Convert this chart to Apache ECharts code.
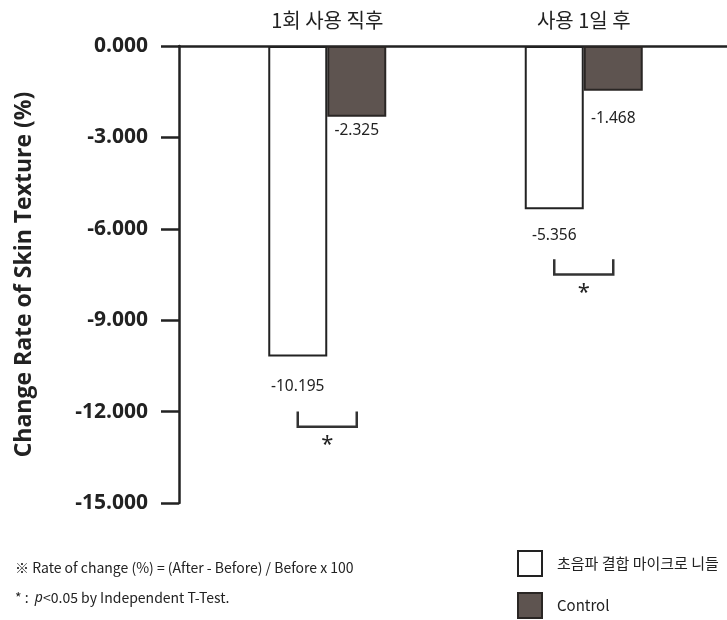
<!DOCTYPE html>
<html>
<head>
<meta charset="utf-8">
<script src="https://cdn.jsdelivr.net/npm/echarts@6/dist/echarts.min.js"></script>
<style>
html,body{margin:0;padding:0;background:#fff;}
#main{width:727px;height:620px;}
</style>
</head>
<body>
<div id="main"></div>
<script>
const categories = ['1회 사용 직후', '사용 1일 후'];
const seriesNames = ['초음파 결합 마이크로 니들', 'Control'];
const microneedleValues = [-10.195, -5.356];
const controlValues = [-2.325, -1.468];
const microneedleLabelGap = [22, 18];
const controlLabelGap = [6, 20];
// significance brackets: [category index, top value, bottom value]
const sigBrackets = [[0, -12.0, -12.5], [1, -7.0, -7.5]];
const footnote1 = '※ Rate of change (%) = (After - Before) / Before x 100';
const footnote2a = '* :  ';
const footnote2b = 'p';
const footnote2c = '<0.05 by Independent T-Test.';

const chart = echarts.init(document.getElementById('main'));
const BAR_W = 59;
const lineColor = '#222';

function mkData(vals, gaps) {
  return vals.map((v, i) => ({
    value: v,
    label: { distance: gaps[i] }
  }));
}

chart.setOption({
  animation: false,
  backgroundColor: '#fff',
  grid: [
    { left: 199, right: 15, top: 46, height: 457, containLabel: false, outerBoundsMode: 'none' },
    { left: 179, right: 0, top: 46, height: 457, containLabel: false, outerBoundsMode: 'none' }
  ],
  xAxis: [
    {
      type: 'category', gridIndex: 0, position: 'top', data: categories,
      axisLine: { show: false }, axisTick: { show: false },
      axisLabel: { margin: 16, fontSize: 20, color: '#222', fontFamily: 'Noto Sans CJK KR' }
    },
    {
      type: 'value', gridIndex: 1, position: 'top', min: 0, max: 1,
      axisLine: { show: true, lineStyle: { color: lineColor, width: 2.5 } },
      axisTick: { show: false }, axisLabel: { show: false }, splitLine: { show: false }
    }
  ],
  yAxis: [
    {
      type: 'value', gridIndex: 0, min: -15, max: 0, interval: 3, offset: 20,
      name: 'Change Rate of Skin Texture (%)', nameLocation: 'middle', nameGap: 143,
      nameTextStyle: { fontSize: 23, fontWeight: 'bold', color: '#222', fontFamily: 'Open Sans' },
      axisLine: { show: true, lineStyle: { color: lineColor, width: 2.5 } },
      axisTick: { show: true, length: 18, lineStyle: { color: lineColor, width: 2.5 } },
      axisLabel: {
        margin: 31, fontSize: 21, fontWeight: 'bold', color: '#222', fontFamily: 'Open Sans',
        formatter: v => v.toFixed(3)
      },
      splitLine: { show: false }
    },
    {
      type: 'value', gridIndex: 1, min: -15, max: 0, show: false
    }
  ],
  legend: {
    orient: 'vertical', left: 517, top: 550, height: 70, padding: 0,
    itemWidth: 24, itemHeight: 25, itemGap: 15,
    icon: 'rect', data: seriesNames,
    textStyle: { fontSize: 15, color: '#222', fontFamily: 'Noto Sans CJK KR', padding: [0, 0, 0, 10] }
  },
  series: [
    {
      name: seriesNames[0], type: 'bar', xAxisIndex: 0, yAxisIndex: 0,
      barWidth: BAR_W, barGap: '0%',
      itemStyle: { color: '#ffffff', borderColor: '#222', borderWidth: 2 },
      label: { show: true, position: 'bottom', fontSize: 15.5, color: '#222', fontFamily: 'Noto Sans',
        formatter: p => p.value.toFixed(3) },
      data: mkData(microneedleValues, microneedleLabelGap)
    },
    {
      name: seriesNames[1], type: 'bar', xAxisIndex: 0, yAxisIndex: 0,
      barWidth: BAR_W, barGap: '0%',
      itemStyle: { color: '#5e5450', borderColor: '#2a2624', borderWidth: 2 },
      label: { show: true, position: 'bottom', fontSize: 15.5, color: '#222', fontFamily: 'Noto Sans',
        formatter: p => p.value.toFixed(3) },
      data: mkData(controlValues, controlLabelGap)
    },
    {
      type: 'custom', xAxisIndex: 0, yAxisIndex: 0, silent: true,
      data: sigBrackets,
      renderItem: function (params, api) {
        const idx = api.value(0);
        const top = api.coord([idx, api.value(1)]);
        const bot = api.coord([idx, api.value(2)]);
        const cx = top[0];
        const xl = cx - BAR_W / 2;
        const xr = cx + BAR_W / 2;
        return {
          type: 'group',
          children: [
            {
              type: 'polyline',
              shape: { points: [[xl, top[1]], [xl, bot[1]], [xr, bot[1]], [xr, top[1]]] },
              style: { stroke: '#333', lineWidth: 2.5, fill: null }
            },
            {
              type: 'text',
              style: { text: '*', x: cx, y: bot[1] + 18, align: 'center', verticalAlign: 'middle',
                fontSize: 22, fontWeight: 'normal', fill: '#222', fontFamily: 'Noto Sans' }
            }
          ]
        };
      }
    }
  ],
  graphic: [
    {
      type: 'text', left: 15, top: 561,
      style: { text: footnote1, fontSize: 14, fill: '#222', fontFamily: 'Noto Sans CJK KR' }
    },
    {
      type: 'text', left: 15, top: 591,
      style: {
        text: '{a|' + footnote2a + '}{b|' + footnote2b + '}{a|' + footnote2c + '}',
        rich: {
          a: { fontSize: 14, fill: '#222', fontFamily: 'Noto Sans CJK KR' },
          b: { fontSize: 14, fill: '#222', fontStyle: 'italic', fontFamily: 'Noto Sans' }
        }
      }
    }
  ]
});
</script>
</body>
</html>
